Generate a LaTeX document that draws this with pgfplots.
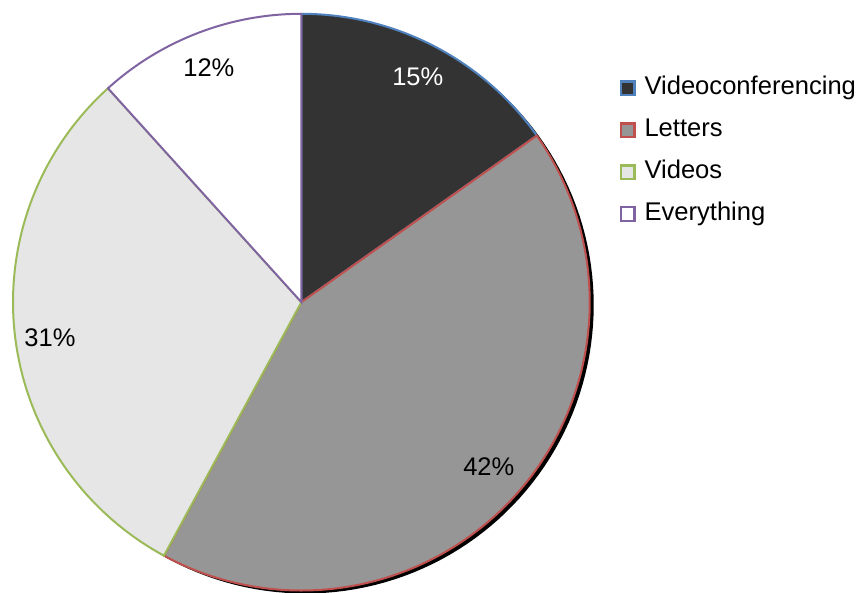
\documentclass[border=0pt]{standalone}
\usepackage{pgfplots}
\pgfplotsset{compat=1.18}
\usepackage{fontspec}
\setmainfont{Liberation Sans}
\definecolor{fA}{HTML}{333333}
\definecolor{eA}{HTML}{4F81BD}
\definecolor{fB}{HTML}{969696}
\definecolor{eB}{HTML}{C0504D}
\definecolor{fC}{HTML}{E6E6E6}
\definecolor{eC}{HTML}{9BBB59}
\definecolor{fD}{HTML}{FFFFFF}
\definecolor{eD}{HTML}{8064A2}
\begin{document}
\begin{tikzpicture}
\def\cx{301.5}\def\cy{290.7}\def\r{288.5}
% shares in percent
\def\vA{15.2}\def\vB{42.7}\def\vC{30.4}\def\vD{11.7}
\pgfmathsetmacro\aA{90}
\pgfmathsetmacro\aB{\aA-3.6*\vA}
\pgfmathsetmacro\aC{\aB-3.6*\vB}
\pgfmathsetmacro\aD{\aC-3.6*\vC}
\pgfmathsetmacro\aE{\aD-3.6*\vD}
\begin{axis}[
  width=429pt, height=296.5pt, scale only axis,
  xmin=0, xmax=858, ymin=0, ymax=593,
  hide axis,
  legend image code/.code={\draw[#1,line width=1.1pt] (0pt,-3.3pt) rectangle (6.8pt,3.5pt);},
  legend cell align=left,
  legend style={draw=none, fill=none, inner sep=0pt, outer sep=0pt,
    at={(axis cs:620,593-74)}, anchor=north west,
    font=\fontsize{12.8}{15}\selectfont,
    row sep=6.5pt,
    nodes={inner sep=1pt, text height=9.5pt, text depth=3pt},
    /tikz/every odd column/.style={column sep=3.5pt}},
]
\addplot[forget plot, fill=black, draw=none, domain=0:360, samples=181, variable=\t]
  ({\cx+4+\r*cos(\t)},{\cy-3+\r*sin(\t)}) -- cycle;
\addplot[fill=fA, draw=eA, line width=1pt, domain=\aB:\aA, samples=60, variable=\t]
  ({\cx+\r*cos(\t)},{\cy+\r*sin(\t)}) -- (axis cs:\cx,\cy) -- cycle;
\addlegendentry{Videoconferencing}
\addplot[fill=fB, draw=eB, line width=1pt, domain=\aC:\aB, samples=120, variable=\t]
  ({\cx+\r*cos(\t)},{\cy+\r*sin(\t)}) -- (axis cs:\cx,\cy) -- cycle;
\addlegendentry{Letters}
\addplot[fill=fC, draw=eC, line width=1pt, domain=\aD:\aC, samples=100, variable=\t]
  ({\cx+\r*cos(\t)},{\cy+\r*sin(\t)}) -- (axis cs:\cx,\cy) -- cycle;
\addlegendentry{Videos}
\addplot[fill=fD, draw=eD, line width=1pt, domain=\aE:\aD, samples=50, variable=\t]
  ({\cx+\r*cos(\t)},{\cy+\r*sin(\t)}) -- (axis cs:\cx,\cy) -- cycle;
\addlegendentry{Everything}
\path (rel axis cs:0,0) rectangle (rel axis cs:1,1);
\node[font=\fontsize{12.75}{15}\selectfont, text=white] at (axis cs:418,593-77) {15\%};
\node[font=\fontsize{12.75}{15}\selectfont] at (axis cs:489,593-467) {42\%};
\node[font=\fontsize{12.75}{15}\selectfont] at (axis cs:50,593-338) {31\%};
\node[font=\fontsize{12.75}{15}\selectfont] at (axis cs:209,593-68) {12\%};
\end{axis}
\end{tikzpicture}
\end{document}
